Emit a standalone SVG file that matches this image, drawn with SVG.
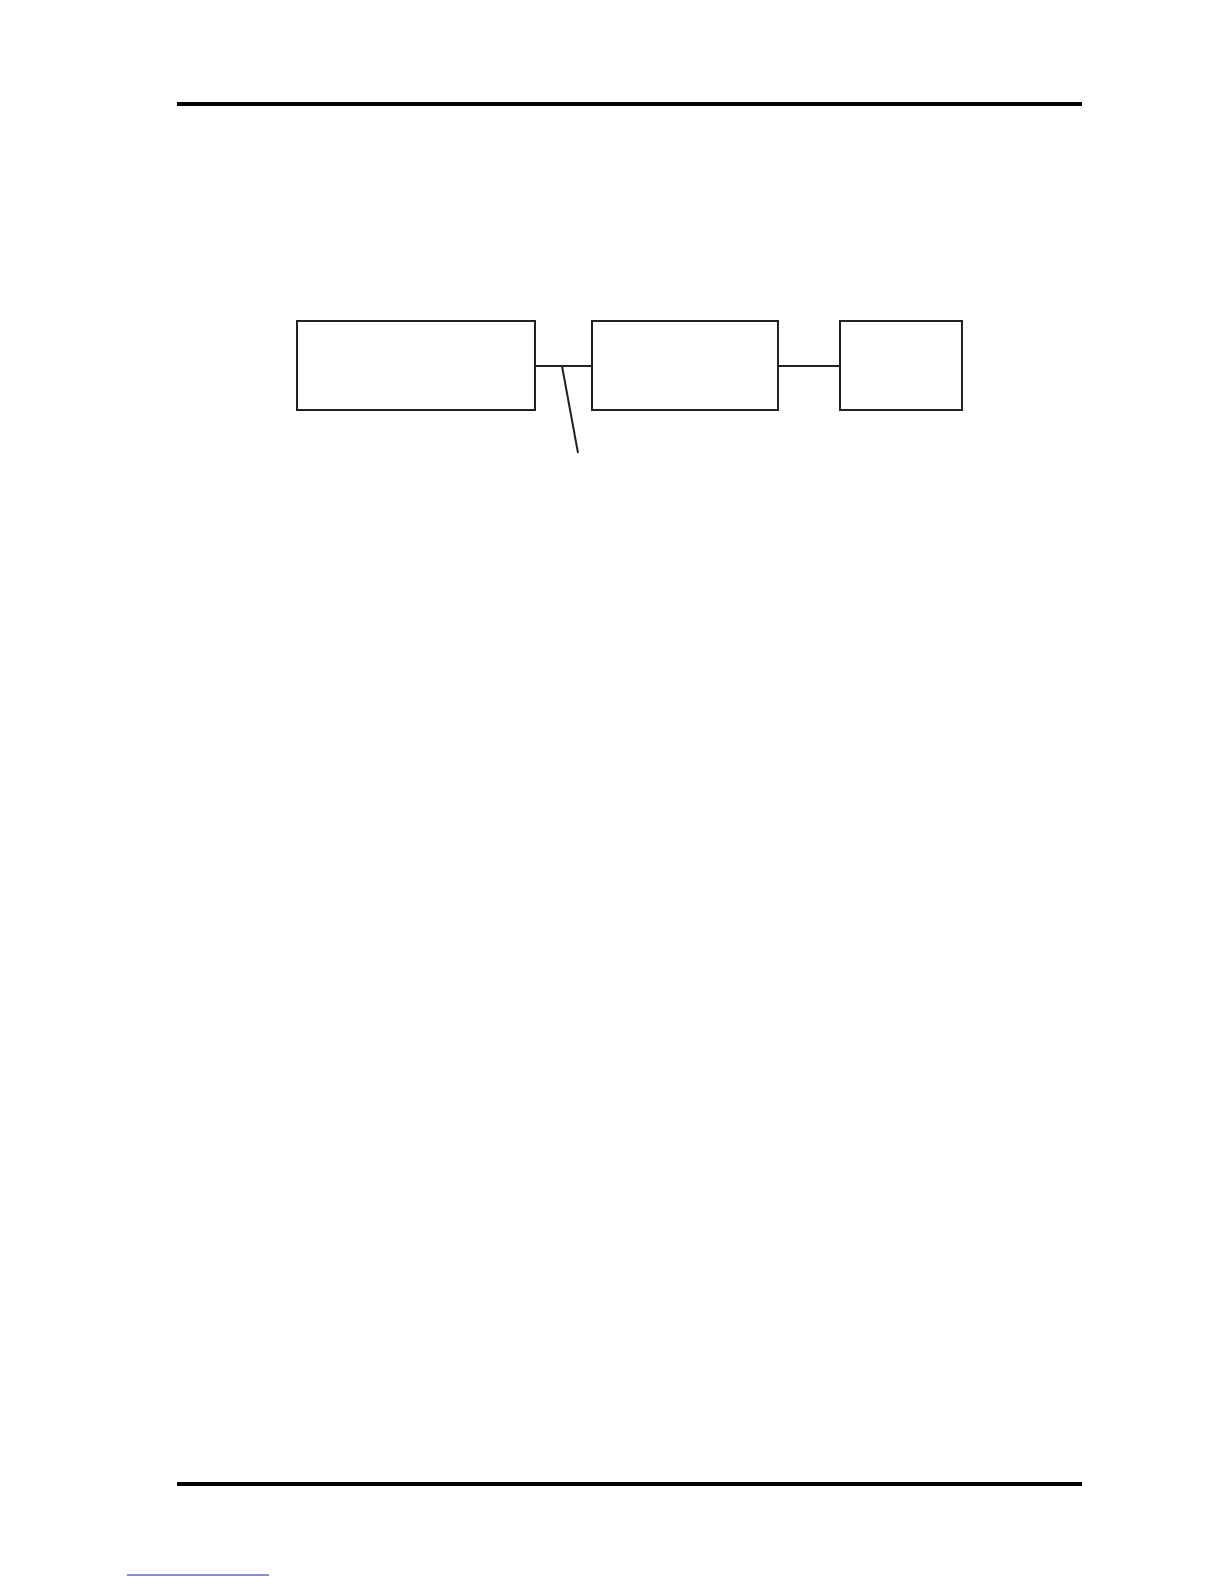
<svg xmlns="http://www.w3.org/2000/svg" width="1224" height="1584" viewBox="0 0 1224 1584">
<style>
.box{fill:#fff;stroke:#222;stroke-width:2}
.conn{stroke:#222;stroke-width:2;fill:none}
.rule{stroke:#000;stroke-width:4}
</style>
<rect width="1224" height="1584" fill="#fff"/>
<line class="rule" x1="177" y1="104" x2="1082" y2="104"/>
<line class="rule" x1="177" y1="1484" x2="1082" y2="1484"/>
<line x1="127" y1="1575" x2="269" y2="1575" stroke="#1a1aa0" stroke-width="1.2"/>
<g id="node1"><rect class="box" x="297" y="321" width="238" height="89"/></g>
<g id="node2"><rect class="box" x="592" y="321" width="186" height="89"/></g>
<g id="node3"><rect class="box" x="840" y="321" width="122" height="89"/></g>
<g id="connectors">
<line class="conn" x1="535" y1="366" x2="592" y2="366"/>
<line class="conn" x1="778" y1="366" x2="840" y2="366"/>
<line class="conn" x1="562" y1="366" x2="578" y2="453"/>
</g>
</svg>
